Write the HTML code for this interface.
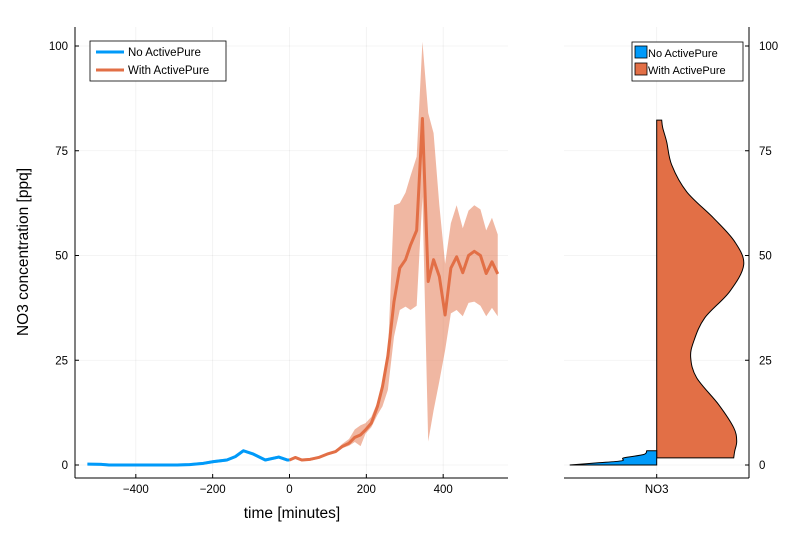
<!DOCTYPE html>
<html><head><meta charset="utf-8"><style>
html,body{margin:0;padding:0;background:#fff}
svg{display:block;font-family:"Liberation Sans",sans-serif}
</style></head><body>
<svg id="chart" width="810" height="540" viewBox="0 0 810 540" xmlns="http://www.w3.org/2000/svg">
<g id="main"></g>
<g id="side"></g>
</svg>
<script>
const blueT=[-526,-490,-470,-400,-350,-292,-260,-224,-198,-163,-141,-120,-94,-63,-28,-6,0];
const blueV=[0.2,0.15,0,0,0,0,0.1,0.4,0.8,1.2,2,3.4,2.6,1.2,1.9,1.2,1.2];
const orT=[0,15,32,54,76,98,120,137,155,170,185,198,213,229,242,256,272,287,302,315,331,346,361,375,390,405,420,435,451,466,481,497,512,527,542];
const orV=[1.2,1.8,1.2,1.35,1.8,2.6,3.2,4.4,5.2,6.6,7.2,8.4,10,14,18.7,26,39,47,49,52.5,56,82.7,43.8,49,45,35.8,47,49.7,45.9,50,51,50,45.7,48.5,45.6];
const orU=[1.5,2.1,1.5,1.7,2.1,2.9,3.5,5,6.2,8.5,9.5,10,11.5,15,20,26,62,62.5,65,69,73.6,101,84,79.2,62,48,57.7,62,56.5,60.7,62,61,56,59,55];
const orL=[0.9,1.5,0.9,1.0,1.5,2.3,2.9,4,4.6,5.5,4.5,7.5,9,12,14,17.9,30.6,37,37.8,37,38,64,5.6,13,20,27.4,36.2,37,35.5,38.7,39,38,35.5,37.5,35.5];
const xTicks=[-400,-200,0,200,400];
const yTicks=[0,25,50,75,100];
const vioOrY=[1.7,3.3,5.7,8.9,14.4,20.8,25.6,29.5,35.1,41.4,47.8,53.3,58.9,65.2,71.6,77.1,80.5,82.3];
const vioOrW=[77,78,80,77,62,40,34,37,48,73,87,78,57,30,15,10,6,5];
const vioBlY=[0,0.5,1,1.7,2.5,3.4];
const vioBlW=[87,60,35,33,13,10];

const NS="http://www.w3.org/2000/svg";
function el(tag,attrs,parent,text){const e=document.createElementNS(NS,tag);for(const k in attrs)e.setAttribute(k,attrs[k]);if(text!==undefined)e.textContent=text;parent.appendChild(e);return e;}
const X=t=>289.5+t*0.3842;
const Y=v=>465-v*4.19;
const mainG=document.getElementById('main');
const sideG=document.getElementById('side');
const pTop=27,pBot=478,pLeft=75,pRight=508;
xTicks.forEach(t=>{const g=el('line',{x1:X(t),x2:X(t),y1:pTop,y2:pBot,stroke:'#000','stroke-opacity':0.06,'stroke-width':0.8},mainG);

});
yTicks.forEach(v=>{const g=el('line',{x1:pLeft,x2:pRight,y1:Y(v),y2:Y(v),stroke:'#000','stroke-opacity':0.06,'stroke-width':0.8},mainG);

});
function ribbon(T,U,L,col,name){let p=T.map((t,i)=>X(t)+','+Y(U[i]));for(let i=T.length-1;i>=0;i--)p.push(X(T[i])+','+Y(L[i]));const r=el('polygon',{points:p.join(' '),fill:col,'fill-opacity':0.5},mainG);

}
ribbon(blueT,blueV.map(v=>v+0.35),blueV.map(v=>Math.max(0,v-0.35)),'#009af9','no-activepure-ribbon');
ribbon(orT,orU,orL,'#e26f46','with-activepure-ribbon');
function line(T,V,col,name){const l=el('polyline',{points:T.map((t,i)=>X(t)+','+Y(V[i])).join(' '),fill:'none',stroke:col,'stroke-width':3,'stroke-linejoin':'round'},mainG);

}
line(blueT,blueV,'#009af9','no-activepure-line');
line(orT,orV,'#e26f46','with-activepure-line');
const ya=el('line',{x1:pLeft,x2:pLeft,y1:pTop,y2:pBot,stroke:'#000','stroke-width':1},mainG);


const xa=el('line',{x1:pLeft,x2:pRight,y1:pBot,y2:pBot,stroke:'#000','stroke-width':1},mainG);


xTicks.forEach(t=>{el('line',{x1:X(t),x2:X(t),y1:pBot,y2:pBot-4,stroke:'#000'},mainG);const tx=el('text',{x:X(t),y:pBot+15,'font-size':11.5,'text-anchor':'middle'},mainG,String(t).replace('-','\u2212'));

});
yTicks.forEach(v=>{el('line',{x1:pLeft,x2:pLeft+4,y1:Y(v),y2:Y(v),stroke:'#000'},mainG);const tx=el('text',{x:pLeft-7,y:Y(v)+4,'font-size':11.5,'text-anchor':'end'},mainG,v);

});
const xt=el('text',{x:292,y:518,'font-size':15.5,'text-anchor':'middle'},mainG,'time [minutes]');


const yt=el('text',{x:28,y:252,'font-size':15.5,'text-anchor':'middle',transform:'rotate(-90 28 252)'},mainG,'NO3 concentration [ppq]');


const lg=el('g',{},mainG);


el('rect',{x:90,y:41,width:136,height:40,fill:'#fff',stroke:'#000','stroke-width':0.8},lg);
el('line',{x1:96,x2:124,y1:52,y2:52,stroke:'#009af9','stroke-width':3},lg);
el('text',{x:128,y:56,'font-size':11.5},lg,'No ActivePure');
el('line',{x1:96,x2:124,y1:70,y2:70,stroke:'#e26f46','stroke-width':3},lg);
el('text',{x:128,y:74,'font-size':11.5},lg,'With ActivePure');
const cx=656.7,sl=564,sr=749;
yTicks.forEach(v=>{const g=el('line',{x1:sl,x2:sr,y1:Y(v),y2:Y(v),stroke:'#000','stroke-opacity':0.06,'stroke-width':0.8},sideG);

});
el('line',{x1:cx,x2:cx,y1:pTop,y2:pBot,stroke:'#000','stroke-opacity':0.06,'stroke-width':0.8},sideG);
function smooth(pts){let d='M'+pts[0][0]+','+pts[0][1];for(let i=0;i<pts.length-1;i++){const p0=pts[Math.max(0,i-1)],p1=pts[i],p2=pts[i+1],p3=pts[Math.min(pts.length-1,i+2)];
const c1x=p1[0]+(p2[0]-p0[0])/6,c1y=p1[1]+(p2[1]-p0[1])/6,c2x=p2[0]-(p3[0]-p1[0])/6,c2y=p2[1]-(p3[1]-p1[1])/6;
d+=' C'+c1x+','+c1y+' '+c2x+','+c2y+' '+p2[0]+','+p2[1];}return d;}
const op=vioOrY.map((v,i)=>[cx+vioOrW[i],Y(v)]);
const d=smooth(op)+' L'+cx+','+Y(vioOrY[vioOrY.length-1])+' L'+cx+','+Y(vioOrY[0])+' Z';
const vo=el('path',{d:d,fill:'#e26f46',stroke:'#000','stroke-width':1},sideG);


const bp=vioBlY.map((v,i)=>[cx-vioBlW[i],Y(v)]);
const d2=smooth(bp)+' L'+cx+','+Y(vioBlY[vioBlY.length-1])+' L'+cx+','+Y(vioBlY[0])+' Z';
const vb=el('path',{d:d2,fill:'#009af9',stroke:'#000','stroke-width':1},sideG);


const vxa=el('line',{x1:sl,x2:sr,y1:pBot,y2:pBot,stroke:'#000'},sideG);


const vya=el('line',{x1:sr,x2:sr,y1:pTop,y2:pBot,stroke:'#000'},sideG);


el('line',{x1:cx,x2:cx,y1:pBot,y2:pBot-4,stroke:'#000'},sideG);
const nl=el('text',{x:cx,y:pBot+15,'font-size':11.5,'text-anchor':'middle'},sideG,'NO3');


yTicks.forEach(v=>{el('line',{x1:sr,x2:sr-4,y1:Y(v),y2:Y(v),stroke:'#000'},sideG);const tx=el('text',{x:sr+10,y:Y(v)+4,'font-size':11.5},sideG,v);

});
const lg2=el('g',{},sideG);


el('rect',{x:632,y:42,width:111,height:39,fill:'#fff',stroke:'#000','stroke-width':0.8},lg2);
el('rect',{x:635,y:46,width:12,height:12,fill:'#009af9',stroke:'#000','stroke-width':0.8},lg2);
el('text',{x:648,y:57,'font-size':11},lg2,'No ActivePure');
el('rect',{x:635,y:63,width:12,height:12,fill:'#e26f46',stroke:'#000','stroke-width':0.8},lg2);
el('text',{x:648,y:74,'font-size':11},lg2,'With ActivePure');
</script>
</body></html>
